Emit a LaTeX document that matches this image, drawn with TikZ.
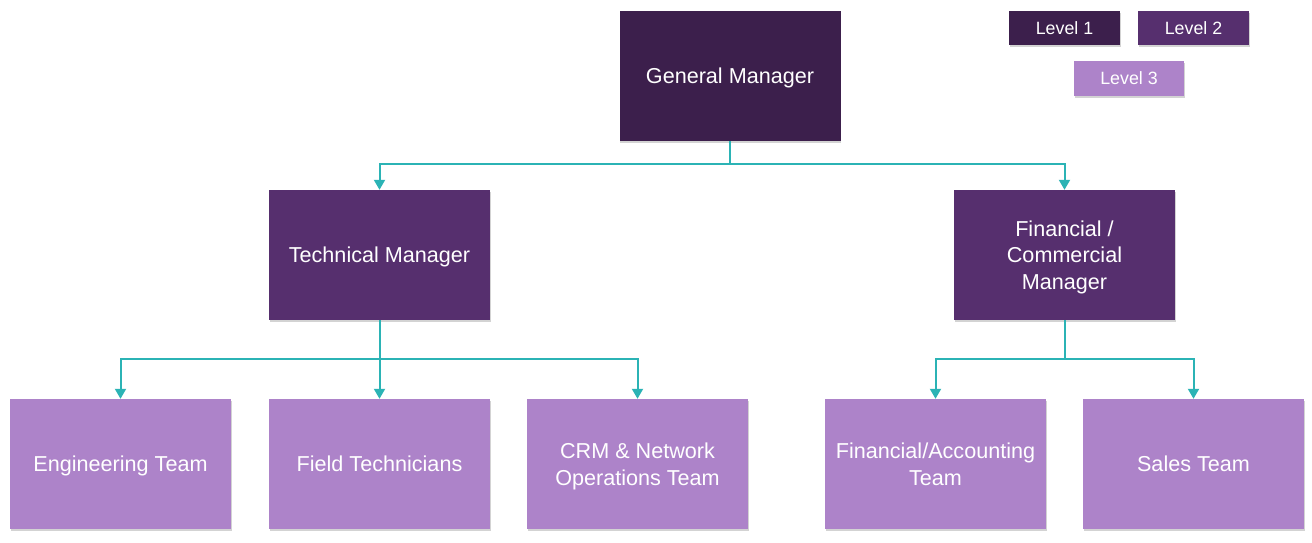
\documentclass[tikz,border=0pt]{standalone}
\usepackage{fontspec}
\setmainfont{Liberation Sans}
\usetikzlibrary{arrows.meta,shadows}

\definecolor{levelone}{HTML}{3C1F4C}
\definecolor{leveltwo}{HTML}{562F6E}
\definecolor{levelthree}{HTML}{AD83C9}
\definecolor{linkteal}{HTML}{2BB3B5}

\begin{document}
\begin{tikzpicture}[x=1pt, y=-1pt,
    box/.style={minimum width=221pt, minimum height=130pt, inner sep=2pt,
      text=white, align=center, text depth=0pt,
      font=\fontsize{21.6}{26.5}\selectfont,
      drop shadow={shadow xshift=0.8pt, shadow yshift=-1.8pt, opacity=0.35}},
    key/.style={minimum width=111pt, minimum height=34pt, inner sep=1pt,
      text=white, text depth=0pt, font=\fontsize{17.8}{20}\selectfont,
      drop shadow={shadow xshift=0.8pt, shadow yshift=-1.8pt, opacity=0.35}},
    link/.style={draw=linkteal, line width=2pt,
      -{Triangle[width=11pt,length=10pt]}},
    trunk/.style={draw=linkteal, line width=2pt}]
    \useasboundingbox (0,0) rectangle (1312,542);

    % levels
    \node[box, fill=levelone] (gm) at (730,76) {General Manager};
    \node[box, fill=leveltwo] (tm) at (379.5,255) {Technical Manager};
    \node[box, fill=leveltwo] (fm) at (1064.5,255) {Financial /\\Commercial\\Manager};
    \node[box, fill=levelthree] (eng) at (120.5,464) {Engineering Team};
    \node[box, fill=levelthree] (fld) at (379.5,464) {Field Technicians};
    \node[box, fill=levelthree] (crm) at (637.5,464) {CRM \& Network\\Operations Team};
    \node[box, fill=levelthree] (fin) at (935.5,464) {Financial/Accounting\\Team};
    \node[box, fill=levelthree] (sal) at (1193.5,464) {Sales Team};

    % legend
    \node[key, fill=levelone] (k1) at (1064.5,28) {Level 1};
    \node[key, fill=leveltwo] (k2) at (1193.5,28) {Level 2};
    \node[key, fill=levelthree, minimum width=110pt, minimum height=35pt] (k3) at (1129,78.5) {Level 3};

    \coordinate (gmj) at (730,164);
    \coordinate (tmj) at (379.5,359);
    \coordinate (fmj) at (1064.5,359);

    \draw[trunk] (gm.south) -- (gmj);
    \draw[link] (gmj) -| (tm.north);
    \draw[link] (gmj) -| (fm.north);

    \draw[trunk] (tm.south) -- (tmj);
    \draw[link] (tmj) -| (eng.north);
    \draw[link] (tmj) -- (fld.north);
    \draw[link] (tmj) -| (crm.north);

    \draw[trunk] (fm.south) -- (fmj);
    \draw[link] (fmj) -| (fin.north);
    \draw[link] (fmj) -| (sal.north);
\end{tikzpicture}
\end{document}
